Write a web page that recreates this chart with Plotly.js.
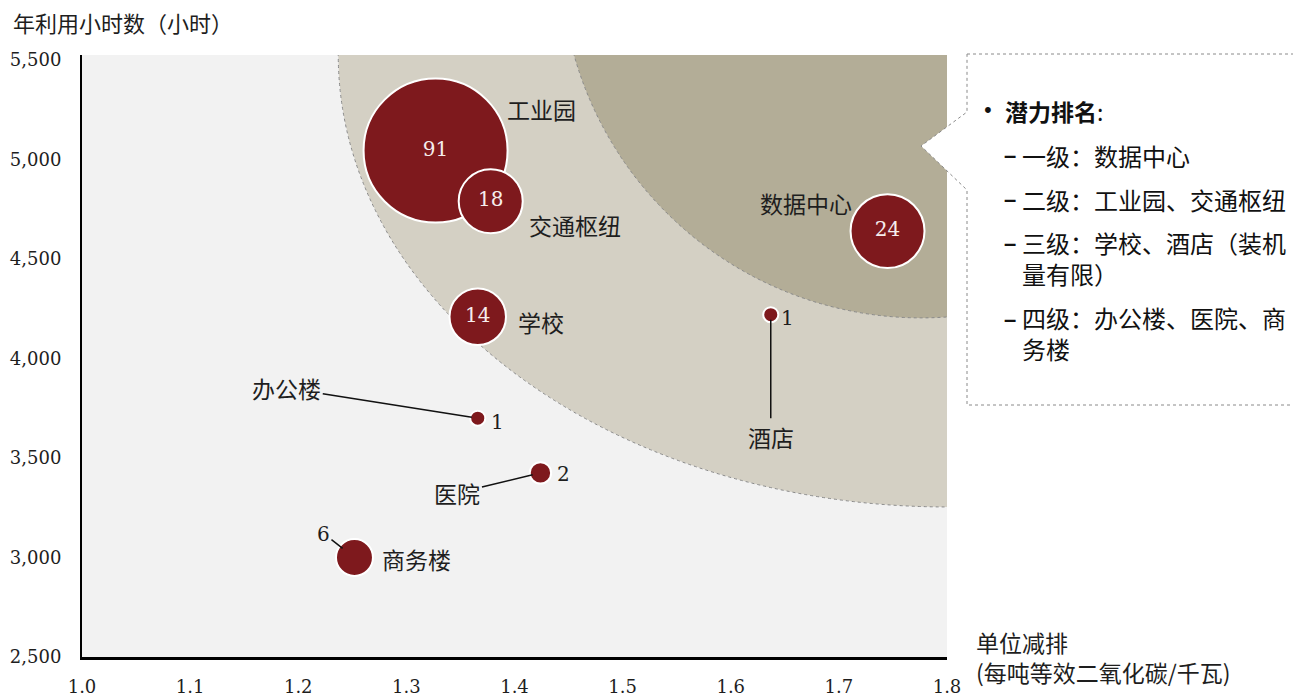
<!DOCTYPE html>
<html>
<head>
<meta charset="utf-8">
<script src="https://cdn.plot.ly/plotly-3.0.1.min.js"></script>
<style>
  html, body { margin: 0; padding: 0; background: #ffffff; }
  #chart { width: 1293px; height: 698px; }
</style>
</head>
<body>
<div id="chart"></div>
<script>
// ---- data ----
const categories = ['工业园', '交通枢纽', '学校', '数据中心', '酒店', '办公楼', '医院', '商务楼'];
const reduction  = [1.327, 1.378, 1.366, 1.745, 1.637, 1.366, 1.424, 1.252];   // 单位减排
const hours      = [5045, 4790, 4210, 4640, 4220, 3700, 3425, 3000];           // 年利用小时数
const potential  = [91, 18, 14, 24, 1, 1, 2, 6];                               // 潜力 (bubble size)
const xTickVals  = [1.0, 1.1, 1.2, 1.3, 1.4, 1.5, 1.6, 1.7, 1.8];
const yTickVals  = [2500, 3000, 3500, 4000, 4500, 5000, 5500];
const rankingTitle = '潜力排名';
const rankingItems = [
  '一级：数据中心',
  '二级：工业园、交通枢纽',
  '三级：学校、酒店（装机<br>量有限）',
  '四级：办公楼、医院、商<br>务楼'
];

// ---- styling ----
const SERIF = '"DejaVu Serif", "Noto Sans CJK SC", serif';
const CJK = '"Noto Sans CJK SC", "DejaVu Serif", sans-serif';
const TXT = '#1e1e1e';
const BUBBLE = '#7e191d';

// plot-area geometry helpers (pixels -> paper)
const L = 82, R = 947, T = 55, B = 657;
const pxX = X => (X - L) / (R - L);
const pxY = Y => (B - Y) / (B - T);

const maxDiameter = 144;
const sizeref = 2 * Math.max(...potential) / (maxDiameter * maxDiameter);

const bubbles = {
  type: 'scatter',
  mode: 'markers+text',
  x: reduction,
  y: hours,
  text: potential.map(v => v >= 10 ? String(v) : ''),
  textposition: 'middle center',
  textfont: { family: SERIF, size: 20, color: '#f6eded' },
  marker: {
    size: potential,
    sizemode: 'area',
    sizeref: sizeref,
    color: BUBBLE,
    opacity: 1,
    line: { color: '#ffffff', width: 2 }
  },
  hoverinfo: 'skip',
  showlegend: false,
  cliponaxis: false
};

// label placement (screen offsets, pixels)
const nameLabel = {
  '工业园':   { dx: 106, dy: -42 },
  '交通枢纽': { dx: 84,  dy: 24 },
  '学校':     { dx: 63,  dy: 5 },
  '数据中心': { dx: -82, dy: -28 },
  '商务楼':   { dx: 62,  dy: 1 },
  '酒店':     { dx: 0,   dy: 122, arrow: true, standoff: 5 },
  '办公楼':   { dx: -191, dy: -30, arrow: true, standoff: 6 },
  '医院':     { dx: -83, dy: 20, arrow: true, standoff: 8 }
};
const numLabel = {
  '酒店':   { dx: 17, dy: 3 },
  '办公楼': { dx: 20, dy: 4 },
  '医院':   { dx: 23, dy: 1 },
  '商务楼': { dx: -31, dy: -24, arrow: true, standoff: 15 }
};

const annotations = [];
categories.forEach((name, i) => {
  const n = nameLabel[name];
  if (n) {
    const base = {
      x: reduction[i], y: hours[i], xref: 'x', yref: 'y', text: name,
      font: { family: CJK, size: 23, color: TXT }
    };
    if (n.arrow) {
      annotations.push(Object.assign(base, {
        showarrow: true, arrowhead: 0, arrowwidth: 1.5, arrowcolor: '#111',
        ax: n.dx, ay: n.dy, axref: 'pixel', ayref: 'pixel', standoff: n.standoff
      }));
    } else {
      annotations.push(Object.assign(base, { showarrow: false, xshift: n.dx, yshift: -n.dy }));
    }
  }
  const m = numLabel[name];
  if (m) {
    const base = {
      x: reduction[i], y: hours[i], xref: 'x', yref: 'y', text: String(potential[i]),
      font: { family: SERIF, size: 20, color: TXT }
    };
    if (m.arrow) {
      annotations.push(Object.assign(base, {
        showarrow: true, arrowhead: 0, arrowwidth: 1.5, arrowcolor: '#111',
        ax: m.dx, ay: m.dy, axref: 'pixel', ayref: 'pixel', standoff: m.standoff
      }));
    } else {
      annotations.push(Object.assign(base, { showarrow: false, xshift: m.dx, yshift: -m.dy }));
    }
  }
});

// axis titles
annotations.push({
  xref: 'paper', yref: 'paper', x: pxX(11), y: pxY(22), xanchor: 'left', yanchor: 'middle',
  text: '年利用小时数（小时）', showarrow: false,
  font: { family: CJK, size: 22, color: TXT }
});
annotations.push({
  xref: 'paper', yref: 'paper', x: pxX(974), y: pxY(657), xanchor: 'left', yanchor: 'middle',
  text: '单位减排<br>(每吨等效二氧化碳/千瓦)', showarrow: false, align: 'left',
  font: { family: CJK, size: 23, color: TXT }
});

// ranking callout text
annotations.push({
  xref: 'paper', yref: 'paper', x: pxX(988), y: pxY(111), xanchor: 'center', yanchor: 'middle',
  text: '•', showarrow: false, font: { family: SERIF, size: 20, color: '#111' }
});
annotations.push({
  xref: 'paper', yref: 'paper', x: pxX(1003), y: pxY(111), xanchor: 'left', yanchor: 'middle',
  text: '<b>' + rankingTitle + '</b>:', showarrow: false,
  font: { family: CJK, size: 23, color: '#111' }
});
const itemY = [155, 200, 257.5, 333.5];
const dashY = [155, 200, 243, 319];
rankingItems.forEach((t, k) => {
  annotations.push({
    xref: 'paper', yref: 'paper', x: pxX(1010), y: pxY(dashY[k]), xanchor: 'center', yanchor: 'middle',
    text: '<b>–</b>', showarrow: false, borderpad: 0,
    font: { family: '"Liberation Sans", sans-serif', size: 22, color: '#111' }
  });
  annotations.push({
    xref: 'paper', yref: 'paper', x: pxX(1020), y: pxY(itemY[k]), xanchor: 'left', yanchor: 'middle',
    align: 'left', text: t, showarrow: false, font: { family: CJK, size: 24, color: '#111' }
  });
});

// background zones (ellipses anchored at the top-right of the plot)
const yTop = 5525;
const shapes = [
  {
    type: 'circle', xref: 'x', yref: 'y', layer: 'below',
    x0: 1.8 - 0.563, x1: 1.8 + 0.563, y0: yTop - 2271, y1: yTop + 2271,
    fillcolor: '#d4d0c4', line: { color: '#8a8a8a', width: 1, dash: 'dot' }
  },
  {
    type: 'circle', xref: 'x', yref: 'y', layer: 'below',
    x0: 1.776 - 0.3333, x1: 1.776 + 0.3333, y0: 6013 - 1809, y1: 6013 + 1809,
    fillcolor: '#b3ad97', line: { color: '#8a8a8a', width: 1, dash: 'dot' }
  },
  {
    type: 'path', xref: 'paper', yref: 'paper', layer: 'above',
    path: `M ${pxX(967)},${pxY(54)} L ${pxX(1310)},${pxY(54)} L ${pxX(1310)},${pxY(405)} L ${pxX(967)},${pxY(405)} ` +
          `L ${pxX(967)},${pxY(190)} L ${pxX(921)},${pxY(146)} L ${pxX(967)},${pxY(112)} Z`,
    fillcolor: '#ffffff', line: { color: '#8a8a8a', width: 1, dash: 'dot' }
  }
];

const layout = {
  width: 1293, height: 698,
  margin: { l: L, r: 1293 - R, t: T, b: 698 - B, pad: 0 },
  paper_bgcolor: '#ffffff',
  plot_bgcolor: '#f2f2f2',
  showlegend: false,
  hovermode: false,
  xaxis: {
    range: [1.0, 1.8],
    tickvals: xTickVals,
    tickformat: '.1f',
    showgrid: false, zeroline: false,
    showline: true, linecolor: '#000', linewidth: 3,
    ticks: '', ticklabelstandoff: 11,
    tickfont: { family: SERIF, size: 18, color: TXT },
    fixedrange: true
  },
  yaxis: {
    range: [2500, yTop],
    tickvals: yTickVals,
    tickformat: ',d',
    showgrid: false, zeroline: false,
    showline: true, linecolor: '#000', linewidth: 2,
    ticks: '', ticklabelstandoff: 15,
    tickfont: { family: SERIF, size: 18, color: TXT },
    fixedrange: true
  },
  shapes: shapes,
  annotations: annotations
};

Plotly.newPlot('chart', [bubbles], layout, { staticPlot: true, displayModeBar: false });
</script>
</body>
</html>
